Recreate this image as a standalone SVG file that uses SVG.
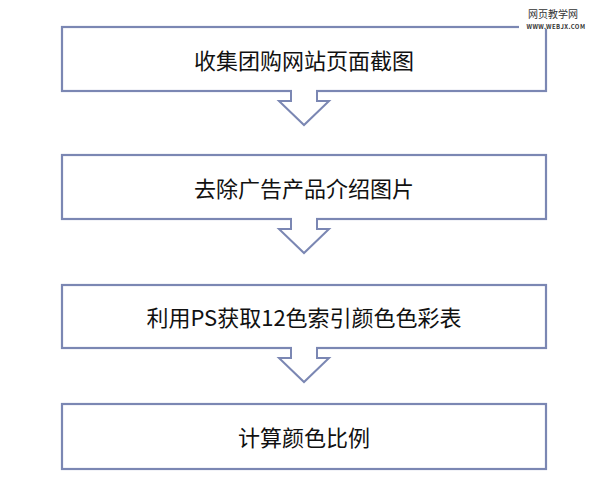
<svg xmlns="http://www.w3.org/2000/svg" width="600" height="488" viewBox="0 0 600 488">
<style>
.box{fill:#fff;stroke:#7b87b3;stroke-width:2.2}
.arr{fill:#fff;stroke:#7b87b3;stroke-width:2;stroke-linejoin:miter}
.t{font-family:"Microsoft YaHei","Noto Sans CJK SC",sans-serif;font-size:22px;fill:#111;text-anchor:middle;dominant-baseline:central}
.wm{font-family:"Noto Sans CJK SC",sans-serif;fill:#333;text-anchor:middle}
</style>
<rect width="600" height="488" fill="#fff"/>
<g id="n1"><rect class="box" x="62" y="27" width="484" height="64"/><text class="t" x="304" y="59">收集团购网站页面截图</text></g>
<g id="n2"><rect class="box" x="62" y="155" width="484" height="64"/><text class="t" x="304" y="187">去除广告产品介绍图片</text></g>
<g id="n3"><rect class="box" x="62" y="285" width="484" height="63"/><text class="t" x="304" y="316">利用PS获取12色索引颜色色彩表</text></g>
<g id="n4"><rect class="box" x="62" y="404" width="484" height="65"/><text class="t" x="304" y="436">计算颜色比例</text></g>
<g id="connectors">
<path class="arr" d="M291,91 V101 H279 L304,125 L329,101 H317 V91"/>
<path class="arr" d="M291,219 V229 H279 L304,253 L329,229 H317 V219"/>
<path class="arr" d="M291,348 V358 H279 L304,382 L329,358 H317 V348"/>
<rect x="292" y="88" width="24" height="12" fill="#fff"/>
<rect x="292" y="216" width="24" height="12" fill="#fff"/>
<rect x="292" y="345" width="24" height="12" fill="#fff"/>
</g>
<g id="watermark">
<rect x="519" y="23" width="74" height="6" fill="#fff"/>
<text class="wm" x="553" y="18" font-size="10">网页教学网</text>
<text class="wm" x="556" y="29" font-size="6" font-weight="bold" font-family="'DejaVu Sans Mono',monospace" letter-spacing="0.4">WWW.WEBJX.COM</text>
</g>
</svg>
